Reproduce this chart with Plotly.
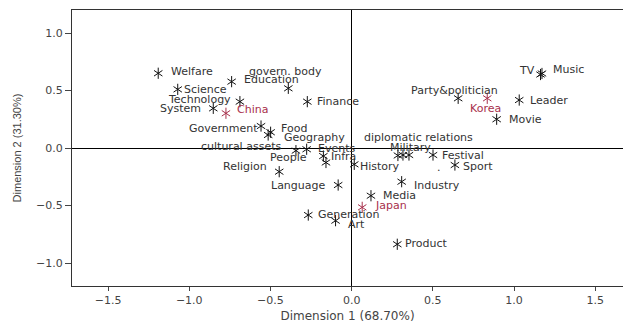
import plotly.graph_objects as go

# ---- data ----
labels = ["Welfare", "govern. body", "Education", "Science", "Technology", "Finance",
          "System", "China", "Government", "Food", "Geography", "cultural assets",
          "Events", "People", "Infra", "Religion", "History", "Language", "Industry",
          "Media", "Japan", "Generation", "Art", "Product", "Military",
          "diplomatic relations", "", "Festival", "Sport", "TV", "Music",
          "Party&politician", "Korea", "Leader", "Movie"]
dim1 = [-1.191, -0.390, -0.739, -1.071, -0.688, -0.273,
        -0.852, -0.774, -0.558, -0.499, -0.514, -0.343,
        -0.277, -0.174, -0.158, -0.446, 0.016, -0.083, 0.308,
        0.119, 0.065, -0.267, -0.099, 0.281, 0.316,
        0.353, 0.285, 0.501, 0.636, 1.163, 1.172,
        0.656, 0.835, 1.032, 0.893]
dim2 = [0.650, 0.519, 0.577, 0.510, 0.403, 0.403,
        0.345, 0.302, 0.191, 0.137, 0.113, -0.023,
        -0.011, -0.070, -0.126, -0.206, -0.142, -0.322, -0.293,
        -0.415, -0.516, -0.583, -0.632, -0.837, -0.061,
        -0.061, -0.065, -0.061, -0.148, 0.639, 0.648,
        0.432, 0.432, 0.417, 0.250]
countries = ["China", "Japan", "Korea"]
x_ticks = [-1.5, -1.0, -0.5, 0.0, 0.5, 1.0, 1.5]
y_ticks = [-1.0, -0.5, 0.0, 0.5, 1.0]
x_title = "Dimension 1 (68.70%)"
y_title = "Dimension 2 (31.30%)"

# ---- label placement (layout only: anchor, x pixel shift, y pixel shift) ----
label_place = {
    "Welfare": ("left", 12, 2), "govern. body": ("center", -3, 17),
    "Education": ("left", 11, 2), "Science": ("left", 5, 0),
    "Technology": ("right", -8, 2), "Finance": ("left", 9, 0),
    "System": ("right", -11, 0), "China": ("left", 10, 4),
    "Government": ("right", -2, -2), "Food": ("left", 9, 4),
    "Geography": ("left", 15, -2), "cultural assets": ("right", -14, 4),
    "Events": ("left", 10, 1), "People": ("right", -15, -1),
    "Infra": ("left", 4, 5.5), "Religion": ("right", -11, 5),
    "History": ("left", 5, -2), "Language": ("right", -11, 0),
    "Industry": ("left", 11, -4), "Media": ("left", 11, 0),
    "Japan": ("left", 12, 2), "Generation": ("left", 9, 1),
    "Art": ("left", 11, -4), "Product": ("left", 7, 1),
    "Military": ("center", 8, 8), "diplomatic relations": ("center", 10, 18),
    "Festival": ("left", 8, 0), "Sport": ("left", 7, -1),
    "TV": ("right", -5, 4.5), "Music": ("left", 10, 3.5),
    "Party&politician": ("center", -4, 8), "Korea": ("center", -2, -10),
    "Leader": ("left", 10, 0), "Movie": ("left", 11, 0),
}

BLACK = "#111111"
RED = "#a8304c"
TEXT = "#333333"
AXIS_TEXT = "#444444"
FONT = "DejaVu Sans, Verdana, sans-serif"

fig = go.Figure()

groups = [
    ([i for i, l in enumerate(labels) if l not in countries], BLACK),
    ([i for i, l in enumerate(labels) if l in countries], RED),
]
for idx, col in groups:
    xs = [dim1[i] for i in idx]
    ys = [dim2[i] for i in idx]
    for sym in ("y-up-open", "y-down-open"):
        fig.add_trace(go.Scatter(
            x=xs, y=ys, mode="markers", hoverinfo="skip", showlegend=False,
            marker=dict(symbol=sym, size=7, color=col,
                        line=dict(color=col, width=1)),
        ))

for lab, x, y in zip(labels, dim1, dim2):
    if not lab:
        continue
    anchor, dx, dy = label_place[lab]
    fig.add_annotation(
        x=x, y=y, text=lab, showarrow=False, xanchor=anchor, yanchor="middle",
        xshift=dx, yshift=dy, borderpad=0,
        font=dict(family=FONT, size=11,
                  color=RED if lab in countries else TEXT),
    )

# stray "." printed just left of the Sport point in the reference
si = labels.index("Sport")
fig.add_annotation(x=dim1[si], y=dim2[si], text=".", showarrow=False,
                   xanchor="center", yanchor="middle", xshift=-16, yshift=-2,
                   font=dict(family=FONT, size=11, color=TEXT))

fig.update_layout(
    width=623, height=325,
    margin=dict(l=72, r=0, t=10, b=39),
    plot_bgcolor="white", paper_bgcolor="white",
    font=dict(family=FONT, size=11, color=AXIS_TEXT),
    xaxis=dict(
        range=[-1.722, 1.671], tickvals=x_ticks, tickformat=".1f",
        ticks="outside", ticklen=4, tickcolor=AXIS_TEXT,
        showline=True, linecolor="#333333", linewidth=1, mirror=True,
        showgrid=False, zeroline=True, zerolinecolor="#000000", zerolinewidth=1,
        title=dict(text=x_title, standoff=5,
                   font=dict(family=FONT, size=12, color=AXIS_TEXT)),
        tickfont=dict(family=FONT, size=11, color=AXIS_TEXT),
    ),
    yaxis=dict(
        range=[-1.2, 1.2], tickvals=y_ticks, tickformat=".1f",
        ticks="outside", ticklen=6, tickcolor=AXIS_TEXT,
        showline=True, linecolor="#333333", linewidth=1, mirror=False,
        showgrid=False, zeroline=True, zerolinecolor="#000000", zerolinewidth=1,
        title=dict(text=y_title, standoff=12,
                   font=dict(family="Liberation Sans Narrow, Liberation Sans, Arial, sans-serif",
                             size=11, color=AXIS_TEXT)),
        tickfont=dict(family=FONT, size=11, color=AXIS_TEXT),
    ),
)

fig.write_html("out.html")
